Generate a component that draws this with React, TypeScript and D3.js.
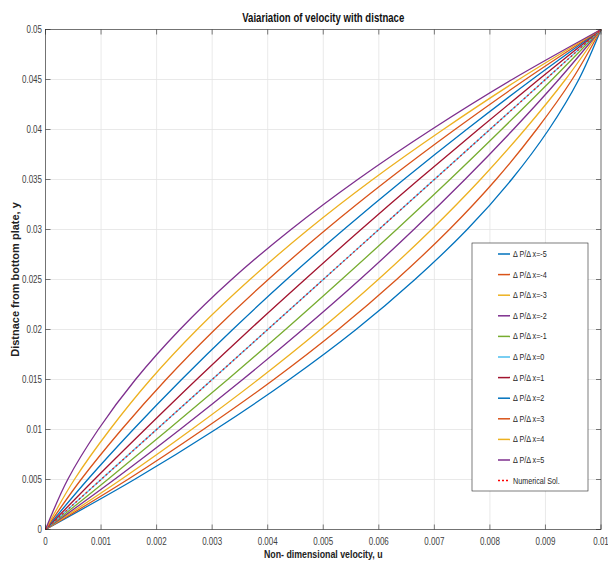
import React from "react";
import * as d3 from "d3";

const yValues = [0, 0.005, 0.01, 0.015, 0.02, 0.025, 0.03, 0.035, 0.04, 0.045, 0.05];

const seriesLabels = [
  "\u0394 P/\u0394 x=-5", "\u0394 P/\u0394 x=-4", "\u0394 P/\u0394 x=-3", "\u0394 P/\u0394 x=-2",
  "\u0394 P/\u0394 x=-1", "\u0394 P/\u0394 x=0", "\u0394 P/\u0394 x=1", "\u0394 P/\u0394 x=2",
  "\u0394 P/\u0394 x=3", "\u0394 P/\u0394 x=4", "\u0394 P/\u0394 x=5",
];

const uMinus5 = [0, 0.0016, 0.00306, 0.00439, 0.00559, 0.00665, 0.00759, 0.00839, 0.00906, 0.0096, 0.01];
const uMinus4 = [0, 0.00148, 0.00284, 0.00411, 0.00527, 0.00632, 0.00727, 0.00811, 0.00884, 0.00948, 0.01];
const uMinus3 = [0, 0.00136, 0.00263, 0.00383, 0.00495, 0.00599, 0.00695, 0.00783, 0.00863, 0.00936, 0.01];
const uMinus2 = [0, 0.00124, 0.00242, 0.00355, 0.00463, 0.00566, 0.00663, 0.00755, 0.00842, 0.00924, 0.01];
const uMinus1 = [0, 0.00112, 0.00221, 0.00328, 0.00432, 0.00533, 0.00632, 0.00728, 0.00821, 0.00912, 0.01];
const uZero = [0, 0.001, 0.002, 0.003, 0.004, 0.005, 0.006, 0.007, 0.008, 0.009, 0.01];
const uPlus1 = [0, 0.00088, 0.00179, 0.00272, 0.00368, 0.00467, 0.00568, 0.00672, 0.00779, 0.00888, 0.01];
const uPlus2 = [0, 0.00076, 0.00158, 0.00245, 0.00337, 0.00434, 0.00537, 0.00645, 0.00758, 0.00876, 0.01];
const uPlus3 = [0, 0.00064, 0.00137, 0.00217, 0.00305, 0.00401, 0.00505, 0.00617, 0.00737, 0.00864, 0.01];
const uPlus4 = [0, 0.00052, 0.00116, 0.00189, 0.00273, 0.00368, 0.00473, 0.00589, 0.00716, 0.00852, 0.01];
const uPlus5 = [0, 0.0004, 0.00095, 0.00162, 0.00242, 0.00335, 0.00442, 0.00562, 0.00695, 0.0084, 0.01];
const uNumerical = [0, 0.001, 0.002, 0.003, 0.004, 0.005, 0.006, 0.007, 0.008, 0.009, 0.01];

const allSeries = [uMinus5, uMinus4, uMinus3, uMinus2, uMinus1, uZero, uPlus1, uPlus2, uPlus3, uPlus4, uPlus5];

const colors = [
  "#0072BD", "#D95319", "#EDB120", "#7E2F8E", "#77AC30", "#4DBEEE",
  "#A2142F", "#0072BD", "#D95319", "#EDB120", "#7E2F8E",
];

const xTicks = [0, 0.001, 0.002, 0.003, 0.004, 0.005, 0.006, 0.007, 0.008, 0.009, 0.01];
const yTicks = [0, 0.005, 0.01, 0.015, 0.02, 0.025, 0.03, 0.035, 0.04, 0.045, 0.05];

const W = 608;
const H = 562;
const left = 45.5;
const right = 601;
const top = 29.5;
const bottom = 529.5;
const SX = 0.8;
const font = "'Liberation Sans', Arial, Helvetica, sans-serif";
const axisColor = "#262626";

export default function App() {
  const x = d3.scaleLinear().domain([0, 0.01]).range([left, right]);
  const y = d3.scaleLinear().domain([0, 0.05]).range([bottom, top]);
  const line = d3
    .line<[number, number]>()
    .x((d) => x(d[0]))
    .y((d) => y(d[1]))
    .curve(d3.curveCatmullRom.alpha(0.5));
  const pts = (arr: number[]) => arr.map((u, i) => [u, yValues[i]] as [number, number]);
  const fmt = (v: number) => (v === 0 ? "0" : String(+v.toFixed(4)));

  const legLeft = 472;
  const legTop = 243;
  const legW = 116;
  const legH = 248;
  const legStep = 20.6;
  const legFirst = 254;
  const legendItems = [...seriesLabels.map((l, i) => ({ l, c: colors[i], dash: false })), { l: "Numerical Sol.", c: "#ff0000", dash: true }];

  return (
    <svg width={W} height={H} style={{ position: "absolute", left: 0, top: 0, background: "#fff" }}>
      <rect x={0} y={0} width={W} height={H} fill="#fff" />
      {xTicks.map((t, i) => (
        <line key={"gx" + i} x1={x(t)} x2={x(t)} y1={top} y2={bottom} stroke="#e3e3e3" strokeWidth={0.8} />
      ))}
      {yTicks.map((t, i) => (
        <line key={"gy" + i} x1={left} x2={right} y1={y(t)} y2={y(t)} stroke="#e3e3e3" strokeWidth={0.8} />
      ))}
      {allSeries.map((s, i) => (
        <path key={"s" + i} d={line(pts(s)) || ""} fill="none" stroke={colors[i]} strokeWidth={1.3} />
      ))}
      <path d={line(pts(uNumerical)) || ""} fill="none" stroke="#e02020" strokeWidth={1.3} strokeDasharray="2,2.5" />
      <rect x={left} y={top} width={right - left} height={bottom - top} fill="none" stroke={axisColor} strokeWidth={0.6} />
      {xTicks.map((t, i) => (
        <g key={"tx" + i}>
          <line x1={x(t)} x2={x(t)} y1={bottom} y2={bottom - 5} stroke={axisColor} strokeWidth={0.6} />
          <line x1={x(t)} x2={x(t)} y1={top} y2={top + 5} stroke={axisColor} strokeWidth={0.6} />
          <g transform={`translate(${x(t)},${545}) scale(${SX},1)`}>
            <text textAnchor="middle" fontFamily={font} fontSize={10} fill="#404040">{fmt(t)}</text>
          </g>
        </g>
      ))}
      {yTicks.map((t, i) => (
        <g key={"ty" + i}>
          <line x1={left} x2={left + 5} y1={y(t)} y2={y(t)} stroke={axisColor} strokeWidth={0.6} />
          <line x1={right} x2={right - 5} y1={y(t)} y2={y(t)} stroke={axisColor} strokeWidth={0.6} />
          <g transform={`translate(${42},${y(t) + 3.5}) scale(${SX},1)`}>
            <text textAnchor="end" fontFamily={font} fontSize={10} fill="#404040">{fmt(t)}</text>
          </g>
        </g>
      ))}
      <g transform={`translate(${(left + right) / 2},${22}) scale(${SX},1)`}>
        <text textAnchor="middle" fontFamily={font} fontSize={12} fontWeight="bold" fill="#111">Vaiariation of velocity with distnace</text>
      </g>
      <g transform={`translate(${(left + right) / 2},${558}) scale(${SX},1)`}>
        <text textAnchor="middle" fontFamily={font} fontSize={11} fontWeight="bold" fill="#222">Non- dimensional velocity, u</text>
      </g>
      <g transform={`translate(${19},${(top + bottom) / 2}) rotate(-90)`}>
        <text textAnchor="middle" fontFamily={font} fontSize={11} fontWeight="bold" fill="#222">Distnace from bottom plate, y</text>
      </g>
      <rect x={legLeft} y={legTop} width={legW} height={legH} fill="#fff" stroke="#262626" strokeWidth={0.6} />
      {legendItems.map((it, i) => {
        const cy = legFirst + i * legStep;
        return (
          <g key={"lg" + i}>
            <line x1={498} x2={510} y1={cy} y2={cy} stroke={it.c} strokeWidth={1.5} strokeDasharray={it.dash ? "2,2" : undefined} />
            <g transform={`translate(${513},${cy + 3}) scale(${SX},1)`}>
              <text fontFamily={font} fontSize={9} fill="#262626">{it.l}</text>
            </g>
          </g>
        );
      })}
    </svg>
  );
}
